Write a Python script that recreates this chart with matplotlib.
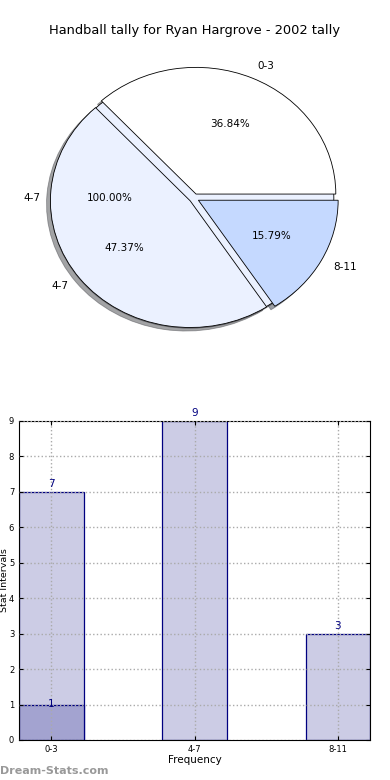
import matplotlib
matplotlib.use("Agg")
import matplotlib.pyplot as plt

# donnees
categories = ["0-3", "4-7", "8-11"]
counts = [7, 9, 3]
extra_counts = [1]          # deuxieme serie (0-3)
pie_values = [7, 9, 3]
under_values = [1]          # camembert "4-7" a 100%
under_labels = ["4-7"]

pie_colors = ["#FFFFFF", "#EBF1FF", "#C5D9FF"]
bar_light = "#CCCCE5"
bar_dark = "#A3A3D0"
navy = "#000080"

fig = plt.figure(figsize=(3.9, 7.8), dpi=100)

# camembert
ax1 = fig.add_axes([0.0496, 0.543, 0.896, 0.406])
ax1.pie(under_values, labels=under_labels, colors=[pie_colors[1]],
        autopct="%.2f%%", startangle=0, shadow=True,
        wedgeprops=dict(edgecolor="black", linewidth=0.6),
        textprops=dict(fontsize=7.5))
ax1.pie(pie_values, labels=categories, colors=pie_colors,
        explode=[0.035, 0.035, 0.035], autopct="%.2f%%", startangle=0,
        shadow=True, wedgeprops=dict(edgecolor="black", linewidth=0.6),
        textprops=dict(fontsize=7.5))
ax1.set_aspect("auto")
ax1.set_xlim(-1.25, 1.25)
ax1.set_ylim(-1.25, 1.25)
fig.text(0.5, 0.961, "Handball tally for Ryan Hargrove - 2002 tally",
         ha="center", va="center", fontsize=9.4)

# barres
ax2 = fig.add_axes([0.049, 0.0513, 0.9, 0.409])
x = list(range(len(categories)))
ax2.bar(x, counts, width=0.45, color=bar_light, edgecolor=navy, linewidth=0.9, zorder=1)
ax2.bar([0], extra_counts, width=0.45, color=bar_dark, edgecolor=navy, linewidth=0.9, zorder=1)
for xi, v in zip(x, counts):
    ax2.text(xi, v + 0.08, str(v), ha="center", va="bottom", color=navy, fontsize=7.5)
ax2.text(0, extra_counts[0] + 0.02, str(extra_counts[0]), ha="center", va="center",
         color=navy, fontsize=7.5)

ax2.set_xlim(-0.225, 2.225)
ax2.set_ylim(0, 9)
ax2.set_xticks(x)
ax2.set_xticklabels(categories)
ax2.set_yticks(range(10))
ax2.tick_params(direction="in", labelsize=6, top=True, right=True, length=3)
ax2.grid(True, linestyle=":", color="#AAAAAA", linewidth=1)
ax2.set_axisbelow(False)
ax2.set_xlabel("Frequency", fontsize=7.5, labelpad=1)
ax2.set_ylabel("Stat Intervals", fontsize=6.8)
ax2.yaxis.set_label_coords(-0.028, 0.5)

fig.text(0.0, 0.012, "Dream-Stats.com", color="#999999", fontsize=8,
         fontweight="bold", ha="left", va="center")

plt.savefig("out.png", dpi=100)
